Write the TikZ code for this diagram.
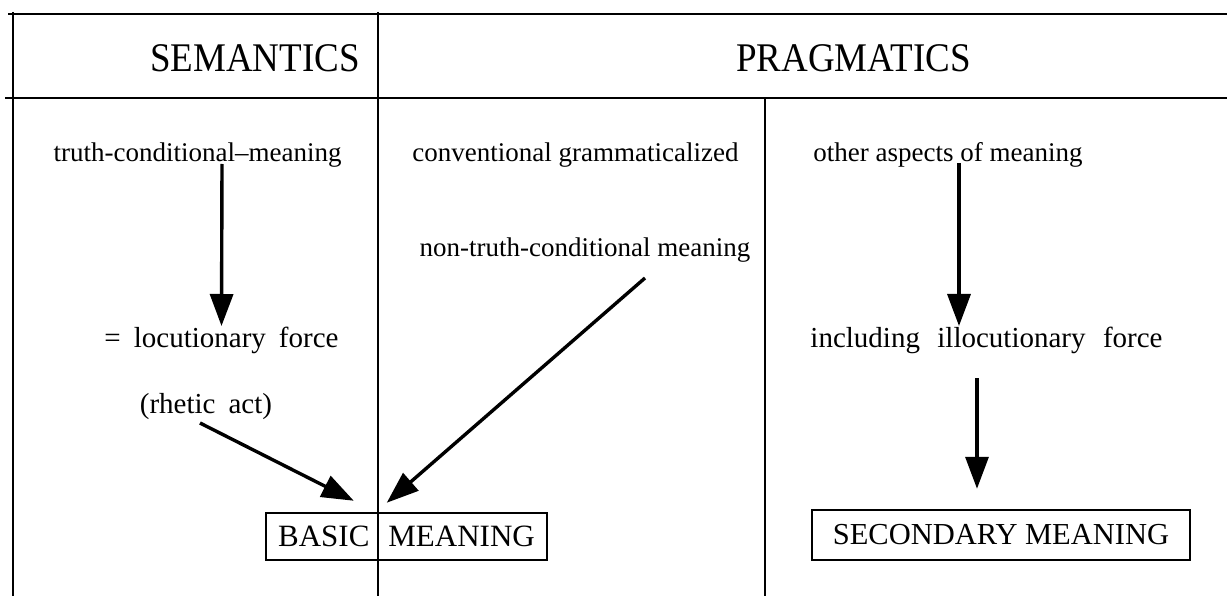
\documentclass[tikz,border=0pt]{standalone}
\usepackage{fontspec}
\setmainfont{Liberation Serif}
\usetikzlibrary{arrows.meta}
\begin{document}
\begin{tikzpicture}[x=1pt,y=-1pt,
  frame/.style={line width=2.8pt},
  arr/.style={line width=3.4pt,-{Triangle[length=32pt,width=23pt]}},
  small/.style={inner sep=0pt,anchor=base,font=\fontsize{27}{32}\selectfont},
  mid/.style={inner sep=0pt,anchor=base,font=\fontsize{29}{34}\selectfont},
  head/.style={inner sep=0pt,anchor=base,font=\fontsize{37}{44}\selectfont},
  boxed/.style={draw,line width=2.5pt,inner sep=0pt,font=\fontsize{31}{36}\selectfont}]
\useasboundingbox (0,0) rectangle (1227,596);
% frame lines
\draw[frame] (8,14) -- (1227,14);
\draw[frame] (5,98) -- (1227,98);
\draw[frame] (13,12) -- (13,596);
\draw[frame] (378,12) -- (378,596);
\draw[frame] (765,98) -- (765,596);
% headers
\node[head] (sem) at (255,72) {\scalebox{1}[1.1]{SEMANTICS}};
\node[head] (prag) at (853.5,72) {\scalebox{1}[1.1]{PRAGMATICS}};
% texts
\node[small] (tc) at (197.5,162) {truth-conditional--meaning};
\node[small] (cg) at (575.5,162) {conventional grammaticalized};
\node[small] (nt) at (585,257) {non-truth-conditional meaning};
\node[small] (oa) at (948,162) {other aspects of meaning};
\node[mid] (lf) at (221.5,348) {=\hspace{0.45em}locutionary\hspace{0.45em}force};
\node[mid] (rh) at (206,413) {(rhetic\hspace{0.45em}act)};
\node[mid] (inc) at (986.5,348) {including\hspace{0.6em}illocutionary\hspace{0.6em}force};
% boxes
\node[boxed,minimum width=281pt,minimum height=47pt] (bm) at (406.5,536.5) {BASIC\hspace{19pt}MEANING};
\node[boxed,minimum width=378pt,minimum height=50pt,font=\fontsize{30.5}{36}\selectfont] (sm) at (1001,535) {SECONDARY MEANING};
% arrows
\draw[arr] ([xshift=24.5pt,yshift=-2pt]tc.base) -- ([yshift=22pt]lf.base);
\draw[arr] ([xshift=-6pt,yshift=-10pt]rh.base) -- ([xshift=89pt,yshift=11pt]bm.north west);
\draw[arr] ([xshift=60pt,yshift=-21pt]nt.base) -- ([xshift=122pt,yshift=9pt]bm.north west);
\draw[arr] ([xshift=11pt,yshift=-1pt]oa.base) -- ([xshift=-27.5pt,yshift=22pt]inc.base);
\draw[arr] ([xshift=-9.5pt,yshift=-30pt]inc.base) -- ([xshift=-24pt,yshift=20pt]sm.north);
\end{tikzpicture}
\end{document}
